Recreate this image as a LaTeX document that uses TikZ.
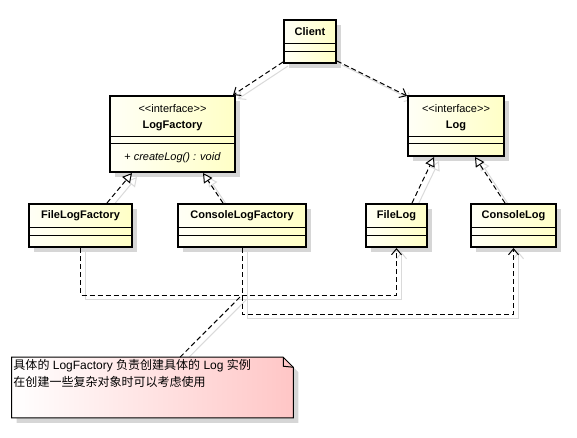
\documentclass[tikz,border=0pt]{standalone}
\usepackage{fontspec}
\setmainfont{Liberation Sans}
\newfontfamily\cjk{Noto Sans CJK SC}
\usetikzlibrary{arrows.meta,calc,shadows,backgrounds}
\definecolor{clsA}{HTML}{FFFFF6}
\definecolor{clsB}{HTML}{FFFFC6}
\definecolor{noteB}{HTML}{FFC6C6}
\definecolor{shd}{HTML}{D6D6D6}
\definecolor{lshd}{HTML}{DADADA}
\tikzset{
  umlclass/.style={draw, line width=1.5pt, inner sep=0pt, left color=clsA, right color=clsB,
    drop shadow={shadow xshift=3.75pt, shadow yshift=-3.75pt, fill=shd, opacity=1}},
  sepline/.style={line width=0.75pt},
  cname/.style={font=\fontsize{8.25}{10}\selectfont\bfseries, inner sep=0pt},
  ctext/.style={font=\fontsize{8.25}{10}\selectfont, inner sep=0pt},
  dashline/.style={line width=0.75pt, dash pattern=on 3.75pt off 2.25pt},
  deparrow/.style={dashline, -{Straight Barb[length=4.5pt,width=7.5pt,line width=0.75pt]}},
  realarrow/.style={dashline, -{Triangle[length=7pt,width=7.5pt,fill=white,line width=0.75pt]}},
  shadowline/.style={draw=lshd, line width=0.75pt, solid, transform canvas={xshift=3.75pt,yshift=-3pt}},
  shdep/.style={shadowline, -{Straight Barb[length=4.5pt,width=7.5pt,line width=0.75pt]}},
  shreal/.style={shadowline, -{Triangle[length=7pt,width=7.5pt,fill=white,line width=0.75pt]}},
}
\begin{document}
\begin{tikzpicture}[x=0.75pt,y=-0.75pt]
\useasboundingbox (0,0) rectangle (577,437);

% classes
\node[umlclass, minimum width=0.75*52pt, minimum height=0.75*43pt] (client) at (310,41.5) {};
\node[umlclass, minimum width=0.75*125pt, minimum height=0.75*76pt] (lf) at (172.5,134) {};
\node[umlclass, minimum width=0.75*96pt, minimum height=0.75*60pt] (log) at (456,126) {};
\node[umlclass, minimum width=0.75*103pt, minimum height=0.75*43pt] (flf) at (80.5,225.5) {};
\node[umlclass, minimum width=0.75*128pt, minimum height=0.75*43pt] (clf) at (242,225.5) {};
\node[umlclass, minimum width=0.75*61pt, minimum height=0.75*43pt] (fl) at (396.5,225.5) {};
\node[umlclass, minimum width=0.75*85pt, minimum height=0.75*43pt] (cl) at (513.5,225.5) {};

% compartments
\foreach \n in {client,flf,clf,fl,cl}{
  \draw[sepline] ($(\n.north west)+(0,24)$) -- ($(\n.north east)+(0,24)$);
  \draw[sepline] ($(\n.north west)+(0,32.5)$) -- ($(\n.north east)+(0,32.5)$);
}
\foreach \n in {lf,log}{
  \draw[sepline] ($(\n.north west)+(0,41)$) -- ($(\n.north east)+(0,41)$);
  \draw[sepline] ($(\n.north west)+(0,48)$) -- ($(\n.north east)+(0,48)$);
}

% class texts
\node[cname] (tclient) at ($(client.north)+(0,12.5)$) {Client};
\node[cname] (tflf) at ($(flf.north)+(0,12.5)$) {FileLogFactory};
\node[cname] (tclf) at ($(clf.north)+(0,12.5)$) {ConsoleLogFactory};
\node[cname] (tfl) at ($(fl.north)+(0,12.5)$) {FileLog};
\node[cname] (tcl) at ($(cl.north)+(0,12.5)$) {ConsoleLog};
\node[ctext] (slf) at ($(lf.north)+(0,14)$) {<{}<interface>{}>};
\node[cname] (tlf) at ($(lf.north)+(0,31)$) {LogFactory};
\node[ctext] (mlf) at ($(lf.north)+(0,63)$) {+ \textit{createLog() : void}};
\node[ctext] (slog) at ($(log.north)+(0,14)$) {<{}<interface>{}>};
\node[cname] (tlog) at ($(log.north)+(0,31)$) {Log};

% note
\node[minimum width=0.75*281pt, minimum height=0.75*60pt, inner sep=0pt] (note) at (152.5,387.5) {};
\path[draw, line width=0.75pt, left color=white, right color=noteB,
  drop shadow={shadow xshift=3.75pt, shadow yshift=-3.75pt, fill=shd, opacity=1}]
  (note.north west) -- ($(note.north east)+(-10,0)$) -- ($(note.north east)+(0,10)$)
  -- (note.south east) -- (note.south west) -- cycle;
\draw[line width=0.75pt] ($(note.north east)+(-10,0)$) -- ($(note.north east)+(-10,9)$) -- ($(note.north east)+(0,10)$);
\node[anchor=north west, inner sep=0pt, align=left, font=\fontsize{9}{12.75}\selectfont]
  (notetext) at ($(note.north west)+(1.5,1.5)$)
  {{\cjk 具体的} LogFactory {\cjk 负责创建具体的} Log {\cjk 实例}\\
   {\cjk 在创建一些复杂对象时可以考虑使用}};

% junction for note connector
\coordinate (jn) at ($(clf.south)+(0,47)$);

% connector shadows
\begin{scope}[on background layer]
\draw[shdep] ($(client.south west)+(0,-2)$) -- ($(lf.north east)+(-3,0)$);
\draw[shdep] ($(client.south east)+(0,-3)$) -- ($(log.north west)+(0,1)$);
\draw[shreal] ($(flf.north)+(26.5,0)$) -- ($(lf.south)+(-40.5,0)$);
\draw[shreal] ($(clf.north)+(-19,0)$) -- ($(lf.south)+(30.5,0)$);
\draw[shreal] ($(fl.north)+(15.5,0)$) -- ($(log.south)+(-22,0)$);
\draw[shreal] ($(cl.north)+(-8.5,0)$) -- ($(log.south)+(19,0)$);
\draw[shdep] (flf.south) -- ++(0,47) -| (fl.south);
\draw[shdep] (clf.south) -- ++(0,66) -| (cl.south);
\draw[shadowline] (note.north) ++(27.5,0) -- (jn);
\end{scope}

% connectors
\draw[deparrow] ($(client.south west)+(0,-2)$) -- ($(lf.north east)+(-3,0)$);
\draw[deparrow] ($(client.south east)+(0,-3)$) -- ($(log.north west)+(0,1)$);
\draw[realarrow] ($(flf.north)+(26.5,0)$) -- ($(lf.south)+(-40.5,0)$);
\draw[realarrow] ($(clf.north)+(-19,0)$) -- ($(lf.south)+(30.5,0)$);
\draw[realarrow] ($(fl.north)+(15.5,0)$) -- ($(log.south)+(-22,0)$);
\draw[realarrow] ($(cl.north)+(-8.5,0)$) -- ($(log.south)+(19,0)$);
\draw[deparrow] (flf.south) -- ++(0,47) -| (fl.south);
\draw[deparrow] (clf.south) -- ++(0,66) -| (cl.south);
\draw[dashline] (note.north) ++(27.5,0) -- (jn);
\end{tikzpicture}
\end{document}
